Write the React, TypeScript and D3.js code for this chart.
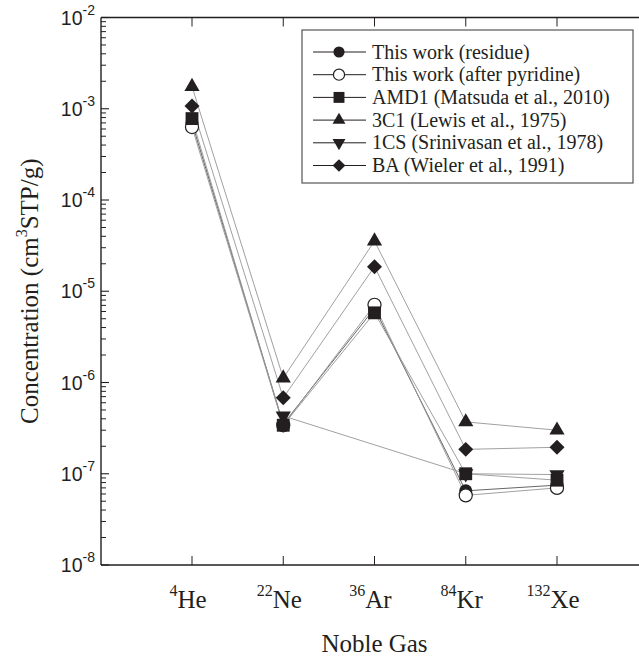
import React from "react";
import * as d3 from "d3";

const gases = ["He", "Ne", "Ar", "Kr", "Xe"];
const gasMass = ["4", "22", "36", "84", "132"];
const yExponents = [-2, -3, -4, -5, -6, -7, -8];

const residue = [7.0e-4, 3.5e-7, 6.5e-6, 6.5e-8, 7.5e-8];
const afterPyridine = [6.3e-4, 3.4e-7, 7.1e-6, 5.8e-8, 7.0e-8];
const amd1 = [7.8e-4, 3.4e-7, 5.8e-6, 1.0e-7, 8.5e-8];
const c3c1 = [1.75e-3, 1.12e-6, 3.55e-5, 3.7e-7, 3.0e-7];
const c1cs: (number | null)[] = [null, 4.3e-7, null, 1.0e-7, 9.8e-8];
const ba = [1.07e-3, 6.8e-7, 1.86e-5, 1.85e-7, 1.95e-7];

const seriesNames = [
  "This work (residue)",
  "This work (after pyridine)",
  "AMD1 (Matsuda et al., 2010)",
  "3C1 (Lewis et al., 1975)",
  "1CS (Srinivasan et al., 1978)",
  "BA (Wieler et al., 1991)",
];
const seriesValues: (number | null)[][] = [residue, afterPyridine, amd1, c3c1, c1cs, ba];
const seriesMarkers = ["circle", "openCircle", "square", "triangle", "invTriangle", "diamond"];

const W = 639;
const H = 657;
const left = 101;
const right = 648;
const top = 17.5;
const bottom = 565;

const serif = "Liberation Serif, Times New Roman, Times, DejaVu Serif, serif";
const sans = "Liberation Sans, Arial, Helvetica, sans-serif";
const ink = "#231f20";
const lineGray = "#959595";

function Marker({ kind, x, y, scale = 1 }: { kind: string; x: number; y: number; scale?: number }) {
  let path = "";
  let rot = 0;
  let fill = ink;
  let stroke = "none";
  if (kind === "circle" || kind === "openCircle") {
    path = d3.symbol().type(d3.symbolCircle).size(135 * scale * scale)()!;
    if (kind === "openCircle") {
      fill = "#fff";
      stroke = ink;
    }
  } else if (kind === "square") {
    path = d3.symbol().type(d3.symbolSquare).size(165 * scale * scale)()!;
  } else if (kind === "triangle") {
    path = d3.symbol().type(d3.symbolTriangle).size(100 * scale * scale)()!;
  } else if (kind === "invTriangle") {
    path = d3.symbol().type(d3.symbolTriangle).size(100 * scale * scale)()!;
    rot = 180;
  } else if (kind === "diamond") {
    path = d3.symbol().type(d3.symbolSquare).size(112 * scale * scale)()!;
    rot = 45;
  }
  return (
    <path
      d={path}
      transform={`translate(${x},${y}) rotate(${rot})`}
      fill={fill}
      stroke={stroke}
      strokeWidth={1.2}
    />
  );
}

export default function App() {
  const x = d3.scalePoint<string>().domain(gases).range([192, 557]);
  const y = d3.scaleLog().domain([1e-2, 1e-8]).range([top, bottom]);

  const minorTicks: number[] = [];
  for (let e = -8; e < -2; e++) {
    for (let m = 2; m <= 9; m++) minorTicks.push(m * Math.pow(10, e));
  }

  const line = d3
    .line<[number, number]>()
    .x((d) => d[0])
    .y((d) => d[1]);

  const legendX = 302;
  const legendY = 30;
  const legendRow = 22.7;

  return (
    <svg width={W} height={H} style={{ position: "absolute", left: 0, top: 0, background: "#fff" }}>
      {/* lines */}
      {seriesValues.map((vals, i) => {
        const pts: [number, number][] = [];
        vals.forEach((v, j) => {
          if (v != null) pts.push([x(gases[j])!, y(v)]);
        });
        return (
          <path
            key={"l" + i}
            d={line(pts)!}
            fill="none"
            stroke={i === 0 ? "#555" : lineGray}
            strokeWidth={0.9}
          />
        );
      })}
      {/* markers */}
      {seriesValues.map((vals, i) =>
        vals.map((v, j) =>
          v == null ? null : (
            <Marker key={`m${i}-${j}`} kind={seriesMarkers[i]} x={x(gases[j])!} y={y(v)} />
          )
        )
      )}

      {/* frame */}
      <line x1={left} x2={left} y1={top} y2={bottom} stroke={ink} strokeWidth={1.4} />
      <line x1={left} x2={right} y1={top} y2={top} stroke={ink} strokeWidth={1.4} />
      <line x1={left} x2={right} y1={bottom} y2={bottom} stroke={ink} strokeWidth={1.4} />

      {/* y ticks */}
      {yExponents.map((e) => (
        <line key={"yt" + e} x1={left} x2={left + 8} y1={y(Math.pow(10, e))} y2={y(Math.pow(10, e))} stroke={ink} strokeWidth={1.1} />
      ))}
      {minorTicks.map((v, i) => (
        <line key={"ym" + i} x1={left} x2={left + 5} y1={y(v)} y2={y(v)} stroke={ink} strokeWidth={1} />
      ))}
      {yExponents.map((e) => (
        <text
          key={"yl" + e}
          x={95}
          y={y(Math.pow(10, e)) + 7}
          textAnchor="end"
          style={{ fontFamily: sans }}
          fontSize={19.5}
          fill={ink}
        >
          10
          <tspan dy={-10} fontSize={14}>
            {String(e)}
          </tspan>
        </text>
      ))}

      {/* x ticks */}
      {gases.map((g) => (
        <g key={"xt" + g}>
          <line x1={x(g)!} x2={x(g)!} y1={bottom} y2={bottom - 9} stroke={ink} strokeWidth={1} />
          <line x1={x(g)!} x2={x(g)!} y1={top} y2={top + 9} stroke={ink} strokeWidth={1} />
        </g>
      ))}
      {gases.map((g, i) => (
        <text key={"xl" + g} x={x(g)! - 4} y={608} textAnchor="middle" style={{ fontFamily: serif }} fontSize={25} fill={ink}>
          <tspan dy={-12} fontSize={16}>
            {gasMass[i]}
          </tspan>
          <tspan dy={12}>{g}</tspan>
        </text>
      ))}

      {/* axis titles */}
      <text x={(192 + 557) / 2} y={652} textAnchor="middle" style={{ fontFamily: serif }} fontSize={25} fill={ink}>
        Noble Gas
      </text>
      <text
        transform={`translate(38,${(top + bottom) / 2}) rotate(-90)`}
        textAnchor="middle"
        style={{ fontFamily: serif }}
        fontSize={25}
        fill={ink}
      >
        Concentration (cm
        <tspan dy={-11} fontSize={16}>
          3
        </tspan>
        <tspan dy={11}>STP/g)</tspan>
      </text>

      {/* legend */}
      <rect x={legendX} y={legendY} width={633 - legendX} height={183 - legendY} fill="#fff" stroke="#555" strokeWidth={1.2} />
      {seriesNames.map((name, i) => {
        const cy = legendY + 22 + i * legendRow;
        return (
          <g key={"lg" + i}>
            <line x1={313} x2={366} y1={cy} y2={cy} stroke={ink} strokeWidth={1} />
            <Marker kind={seriesMarkers[i]} x={339} y={cy} scale={0.85} />
            <text x={372} y={cy + 6.5} style={{ fontFamily: serif }} fontSize={20} fill={ink}>
              {name}
            </text>
          </g>
        );
      })}
    </svg>
  );
}
